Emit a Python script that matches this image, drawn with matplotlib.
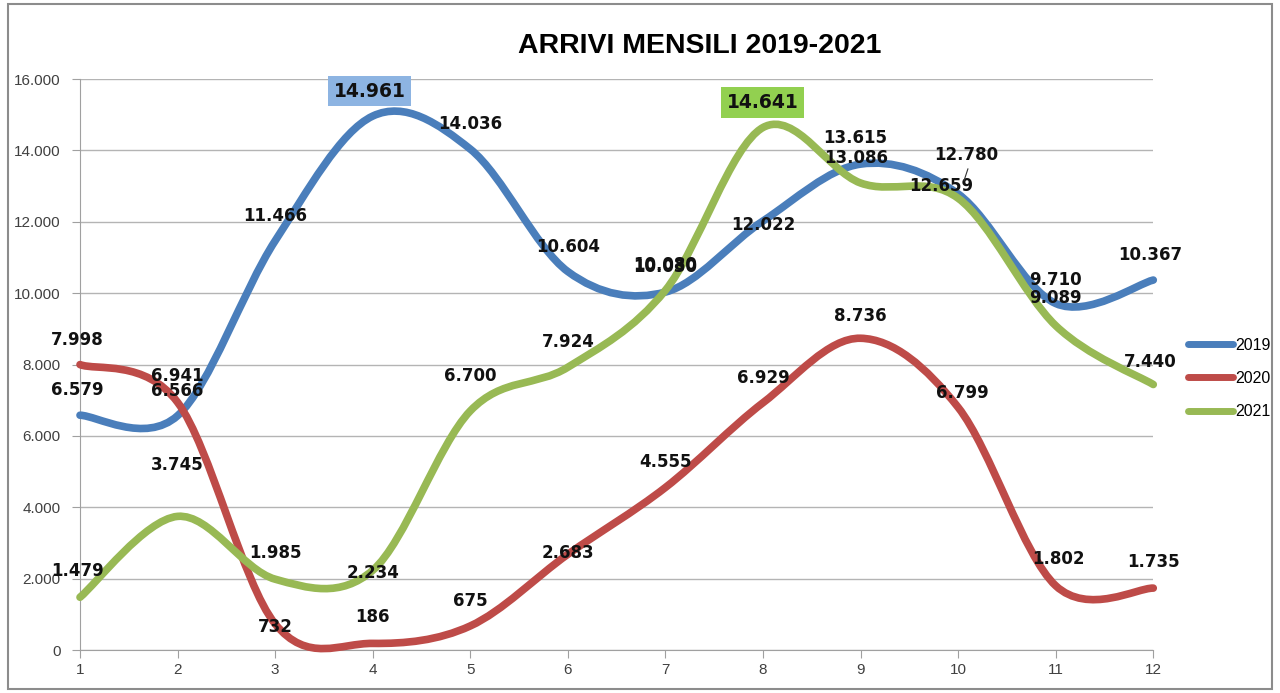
import matplotlib
matplotlib.use("Agg")
import matplotlib.pyplot as plt
from matplotlib.path import Path
from matplotlib.patches import PathPatch, Rectangle
from matplotlib.lines import Line2D
from matplotlib import font_manager as fm

months = [1, 2, 3, 4, 5, 6, 7, 8, 9, 10, 11, 12]
v2019 = [6579, 6566, 11466, 14961, 14036, 10604, 10030, 12022, 13615, 12780, 9710, 10367]
v2020 = [7998, 6941, 732, 186, 675, 2683, 4555, 6929, 8736, 6799, 1802, 1735]
v2021 = [1479, 3745, 1985, 2234, 6700, 7924, 10080, 14641, 13086, 12659, 9089, 7440]
series_names = ["2019", "2020", "2021"]
colors = ["#4A7EBB", "#BE4B48", "#98B954"]
yticks = [0, 2000, 4000, 6000, 8000, 10000, 12000, 14000, 16000]
title = "ARRIVI MENSILI 2019-2021"

# label offsets in points (dx, dy) per series per month (layout only)
off2019 = [(-2, 18), (0, 18), (0, 18), (0, 0), (0, 18), (0, 18), (0, 18), (0, -3), (-4, 19), (6, 28), (0, 17), (-2, 18)]
off2020 = [(-2, 18), (0, 19), (0, -2), (0, 19), (0, 18), (0, 1), (0, 18), (0, 18), (0, 16), (3, 10), (2, 19), (0, 19)]
off2021 = [(-2, 19), (0, 37), (0, 19), (0, -2), (0, 25), (0, 18), (0, 18), (0, 0), (-3, 18), (-12, 9), (0, 20), (-2, 16)]

def fmt(v):
    return f"{v:,}".replace(",", ".")

def smooth_path(xs, ys):
    n = len(xs)
    verts = [(xs[0], ys[0])]
    codes = [Path.MOVETO]
    for i in range(n - 1):
        i0 = max(i - 1, 0)
        i3 = min(i + 2, n - 1)
        c1 = (xs[i] + (xs[i + 1] - xs[i0]) / 6.0, ys[i] + (ys[i + 1] - ys[i0]) / 6.0)
        c2 = (xs[i + 1] - (xs[i3] - xs[i]) / 6.0, ys[i + 1] - (ys[i3] - ys[i]) / 6.0)
        verts += [c1, c2, (xs[i + 1], ys[i + 1])]
        codes += [Path.CURVE4] * 3
    return Path(verts, codes)

avail = {f.name for f in fm.fontManager.ttflist}
narrow = "Liberation Sans Narrow" if "Liberation Sans Narrow" in avail else "Liberation Sans"

fig = plt.figure(figsize=(12.8, 6.93), dpi=100)
fig.patches.append(Rectangle((0.006, 0.006), 0.988, 0.988, transform=fig.transFigure,
                             fill=False, edgecolor="#8c8c8c", lw=1.5))
ax = fig.add_axes([0.0625, 0.062, 0.8385, 0.824])
ax.set_xlim(1, 12)
ax.set_ylim(0, 16000)
ax.set_yticks(yticks)
ax.set_yticklabels([fmt(t) for t in yticks], fontsize=11, color="#404040", family="Liberation Sans")
ax.set_xticks(months)
ax.set_xticklabels([str(m) for m in months], fontsize=11, color="#404040", family=narrow)
ax.grid(axis="y", color="#b4b4b4", lw=1)
ax.set_axisbelow(True)
for s in ["top", "right"]:
    ax.spines[s].set_visible(False)
for s in ["left", "bottom"]:
    ax.spines[s].set_color("#a0a0a0")
ax.tick_params(axis="both", color="#a0a0a0", length=6, direction="out")
ax.tick_params(axis="y", pad=8)

all_vals = [v2019, v2020, v2021]
all_offs = [off2019, off2020, off2021]
for vals, c in zip(all_vals, colors):
    p = PathPatch(smooth_path(months, vals), fill=False, edgecolor=c, lw=5.5,
                  capstyle="round", joinstyle="round", zorder=3)
    p.set_clip_on(False)
    ax.add_patch(p)

for si, (vals, offs) in enumerate(zip(all_vals, all_offs)):
    for m, v, (dx, dy) in zip(months, vals, offs):
        kw = dict(fontweight="bold", family="DejaVu Sans", color="#111111",
                  ha="center", va="center", zorder=5, annotation_clip=False)
        if si == 0 and m == 4:
            ax.annotate(fmt(v), (m, v), xytext=(-2, 18), textcoords="offset points", fontsize=13.5,
                        bbox=dict(boxstyle="square,pad=0.3", fc="#8DB4E2", ec="none"), **kw)
        elif si == 2 and m == 8:
            ax.annotate(fmt(v), (m, v), xytext=(0, 18), textcoords="offset points", fontsize=13.5,
                        bbox=dict(boxstyle="square,pad=0.3", fc="#92D050", ec="none"), **kw)
        else:
            ax.annotate(fmt(v), (m, v), xytext=(dx, dy), textcoords="offset points", fontsize=12, **kw)

# small leader line near the 12.780 label
ax.plot([10.06, 10.1], [13150, 13480], color="#333333", lw=0.8, zorder=6)

handles = [Line2D([0], [0], color=c, lw=5, solid_capstyle="round") for c in colors]
fig.legend(handles, series_names, loc="center left", bbox_to_anchor=(0.917, 0.454),
           frameon=False, handlelength=2.8, handletextpad=0.15,
           labelspacing=1.15, prop={"family": "Liberation Sans", "size": 11.5})

fig.text(0.547, 0.934, title, ha="center", va="center", fontsize=20.5, fontweight="bold",
         family=narrow, color="black")

fig.savefig("out.png", dpi=100)
